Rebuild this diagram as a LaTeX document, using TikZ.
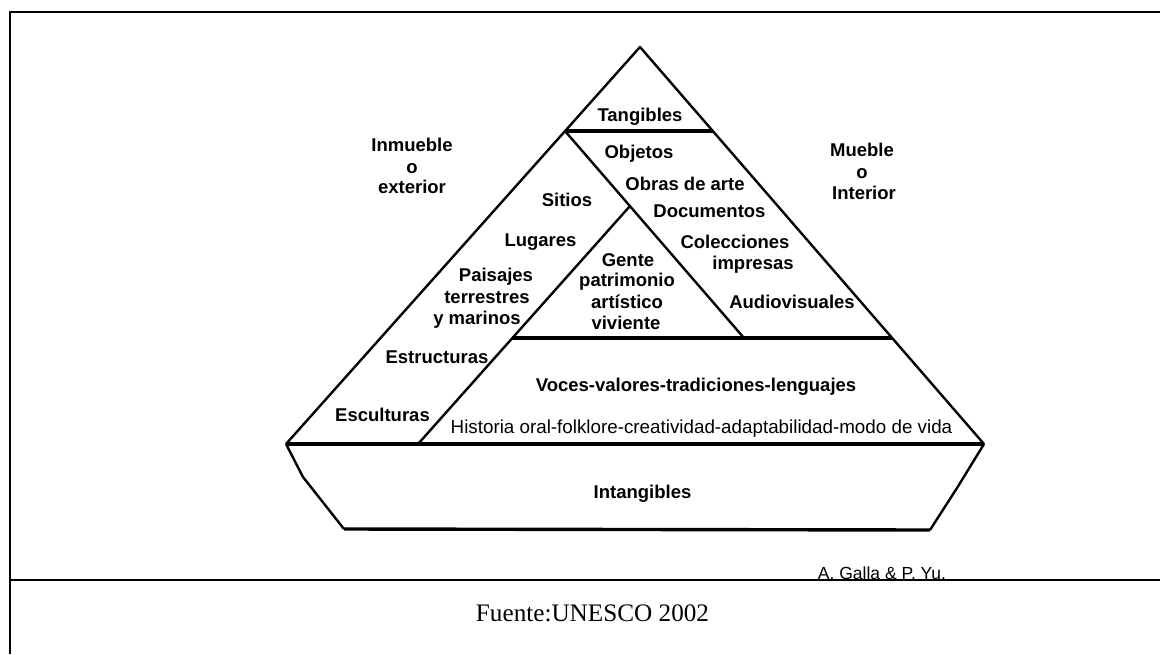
\documentclass[tikz,border=0pt]{standalone}
\usepackage{fontspec}
\setmainfont{Liberation Serif}
\setsansfont{Liberation Sans}
\begin{document}
\begin{tikzpicture}[x=1pt,y=-1pt,
  lbl/.style={font=\sffamily\bfseries\fontsize{18.5}{21}\selectfont,anchor=base,inner sep=0pt},
  thin lbl/.style={font=\sffamily\fontsize{18.8}{21}\selectfont,anchor=base west,inner sep=0pt},
  edge/.style={line width=2.4pt,line join=round},
  heavy/.style={line width=3.4pt},
  frameline/.style={line width=2.4pt}]
\useasboundingbox (0,0) rectangle (1160,654);
\fill[white] (0,0) rectangle (1160,654);

% frame
\draw[frameline] (10,654) -- (10,12) -- (1160,12);
\draw[frameline] (10,580) -- (1160,580);

% pyramid corners
\coordinate (apex) at (640,47);
\coordinate (tl) at (565,131);
\coordinate (tr) at (713,131);
\coordinate (g) at (630,206);
\coordinate (m) at (744,338);
\coordinate (il) at (512,338);
\coordinate (hr) at (892,338);
\coordinate (bl) at (286,444);
\coordinate (br) at (984,444);
\coordinate (el) at (418,444);
\coordinate (kl) at (303,477);
\coordinate (kr) at (957,488);
\coordinate (dl) at (344,529);
\coordinate (dr) at (930,530);

% outer triangle
\draw[edge] (bl) -- (apex) -- (br);
% divisions
\draw[heavy] (tl) -- (tr);
\draw[edge] (tl) -- (m);
\draw[edge] (g) -- (el);
\draw[heavy] (il) -- (hr);
\draw[heavy] (bl) -- (br);
% base trapezoid
\draw[edge] (bl) -- (kl) -- (dl);
\draw[edge] (br) -- (kr) -- (dr);
\draw[heavy] (dl) -- (dr);

% labels
\node[lbl] (tang) at (640,121.5) {Tangibles};
\node[lbl] (inm1) at (412,151.5) {Inmueble};
\node[lbl] (inm2) at (412,173) {o};
\node[lbl] (inm3) at (412,193.5) {exterior};
\node[lbl] (mue1) at (862,156.5) {Mueble};
\node[lbl] (mue2) at (862,178) {o};
\node[lbl] (mue3) at (864,199.5) {Interior};
\node[lbl] (obj) at (639,158) {Objetos};
\node[lbl] (obras) at (685,190.5) {Obras de arte};
\node[lbl] (sit) at (567,206.5) {Sitios};
\node[lbl] (doc) at (709.5,217) {Documentos};
\node[lbl] (lug) at (540.5,246.5) {Lugares};
\node[lbl] (col1) at (735,248) {Colecciones};
\node[lbl] (col2) at (753,269) {impresas};
\node[lbl] (gen1) at (628,266.5) {Gente};
\node[lbl] (gen2) at (627,286.5) {patrimonio};
\node[lbl] (gen3) at (627,308) {artístico};
\node[lbl] (gen4) at (626,329.5) {viviente};
\node[lbl] (pai1) at (496,281.5) {Paisajes};
\node[lbl] (pai2) at (487,303) {terrestres};
\node[lbl] (pai3) at (477,324.5) {y marinos};
\node[lbl] (aud) at (792,308) {Audiovisuales};
\node[lbl] (estr) at (437,363) {Estructuras};
\node[lbl] (voces) at (696,391.5) {Voces-valores-tradiciones-lenguajes};
\node[lbl] (escu) at (382.5,421.5) {Esculturas};
\node[thin lbl] (hist) at (450.5,433) {Historia oral-folklore-creatividad-adaptabilidad-modo de vida};
\node[lbl] (intang) at (642.5,498) {Intangibles};
\node[font=\sffamily\fontsize{17.5}{20}\selectfont,anchor=base,inner sep=0pt] (autor) at (882,579.5) {A. Galla \& P. Yu.};
\node[font=\rmfamily\fontsize{25.2}{28}\selectfont,anchor=base,inner sep=0pt] (fuente) at (592.5,621.5) {Fuente:UNESCO 2002};
\end{tikzpicture}
\end{document}
